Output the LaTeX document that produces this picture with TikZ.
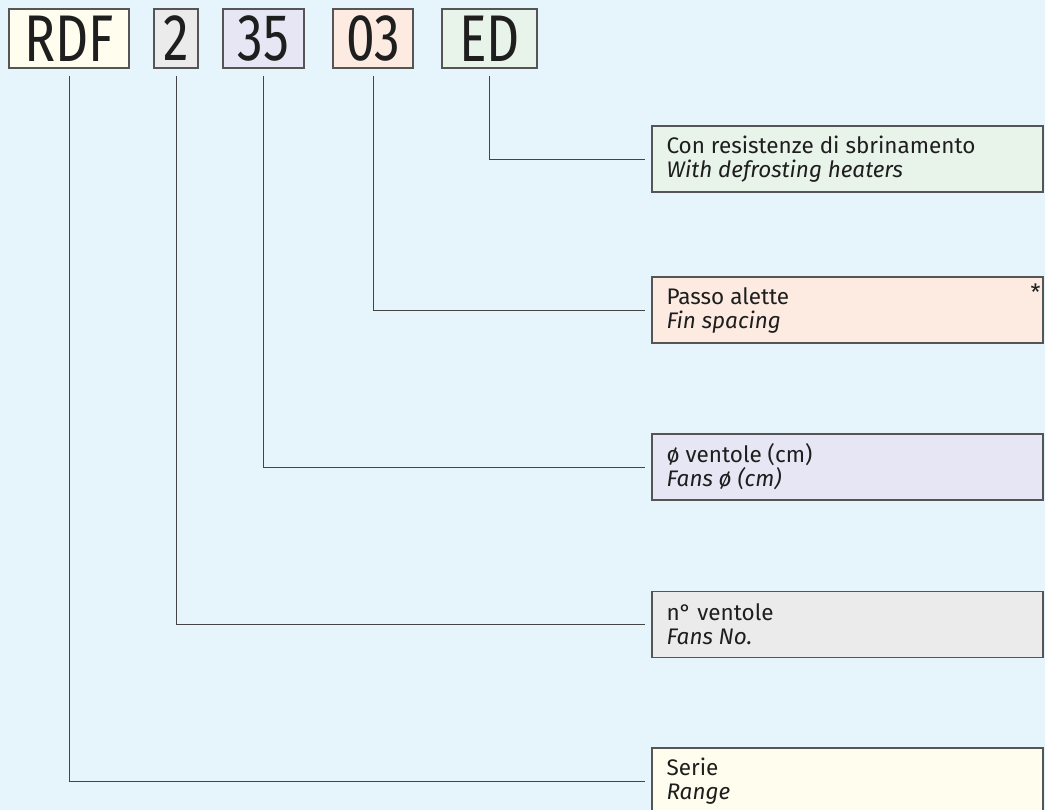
\documentclass[tikz,border=0pt]{standalone}
\usepackage{fontspec}
\setmainfont{Fira Sans}
\definecolor{bgblue}{HTML}{E6F4FC}
\definecolor{cream}{HTML}{FFFDEE}
\definecolor{grayf}{HTML}{EBEBEB}
\definecolor{lav}{HTML}{E7E6F5}
\definecolor{peach}{HTML}{FDEBE2}
\definecolor{mint}{HTML}{E8F3EA}
\definecolor{edge}{HTML}{555555}
\definecolor{wire}{HTML}{444444}
\definecolor{ink}{HTML}{1E1E1E}
\begin{document}
\begin{tikzpicture}[x=1pt,y=-1pt,
  codebox/.style={draw=edge, line width=1.3pt, minimum height=59pt, inner sep=0pt, text=ink,
    font=\fontsize{66}{68}\selectfont},
  descbox/.style={draw=edge, line width=1.3pt, minimum height=66pt, minimum width=391pt, inner sep=0pt},
  desctext/.style={anchor=west, align=left, inner sep=0pt, text=ink,
    font=\fontsize{22.5}{24}\selectfont},
  wirel/.style={draw=wire, line width=0.9pt}]
\fill[bgblue] (0,0) rectangle (1045,810);
\useasboundingbox (0,0) rectangle (1045,810);
% code boxes
\node[codebox, fill=cream, minimum width=120pt] (rdf) at (69,38.5) {\raisebox{-2pt}{\scalebox{0.78}[1]{RDF}}};
\node[codebox, fill=grayf, minimum width=44pt] (two) at (176,38.5) {\raisebox{-2pt}{\scalebox{0.78}[1]{2}}};
\node[codebox, fill=lav, minimum width=81pt] (tf) at (263.5,38.5) {\raisebox{-2pt}{\scalebox{0.78}[1]{35}}};
\node[codebox, fill=peach, minimum width=80pt] (oz) at (373,38.5) {\raisebox{-2pt}{\scalebox{0.78}[1]{03}}};
\node[codebox, fill=mint, minimum width=95pt] (ed) at (489.5,38.5) {\raisebox{-2pt}{\scalebox{0.78}[1]{ED}}};
% description boxes
\node[descbox, fill=mint] (con) at (847.5,159) {};
\node[descbox, fill=peach] (passo) at (847.5,310) {};
\node[descbox, fill=lav] (vent) at (847.5,467) {};
\node[descbox, fill=grayf] (nven) at (847.5,624.5) {};
\node[descbox, fill=cream] (serie) at (847.5,781) {};
% texts
\node[desctext] (tcon) at ([xshift=15pt]con.west) {Con resistenze di sbrinamento\\\textit{With defrosting heaters}};
\node[desctext] (tpasso) at ([xshift=15pt]passo.west) {Passo alette\\\textit{Fin spacing}};
\node[desctext] (tvent) at ([xshift=15pt]vent.west) {ø ventole (cm)\\\textit{Fans ø (cm)}};
\node[desctext] (tnven) at ([xshift=15pt]nven.west) {n° ventole\\\textit{Fans No.}};
\node[desctext] (tserie) at ([xshift=15pt]serie.west) {Serie\\\textit{Range}};
\node[anchor=north east, inner sep=0pt, text=ink, font=\fontsize{22.5}{24}\selectfont] (ast) at ([xshift=-3pt,yshift=-7pt]passo.north east) {*};
% connectors
\draw[wirel] ([yshift=-7pt]rdf.south) |- ([xshift=-6pt]serie.west);
\draw[wirel] ([yshift=-7pt]two.south) |- ([xshift=-6pt]nven.west);
\draw[wirel] ([yshift=-7pt]tf.south) |- ([xshift=-6pt]vent.west);
\draw[wirel] ([yshift=-7pt]oz.south) |- ([xshift=-6pt]passo.west);
\draw[wirel] ([yshift=-7pt]ed.south) |- ([xshift=-6pt]con.west);
\end{tikzpicture}
\end{document}
